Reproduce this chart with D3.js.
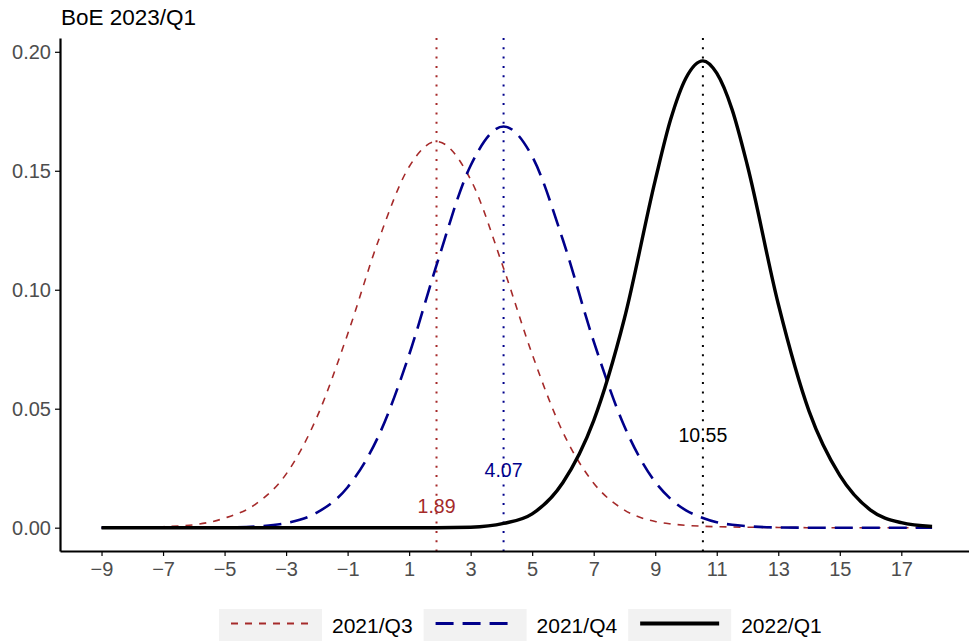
<!DOCTYPE html>
<html>
<head>
<meta charset="utf-8">
<script src="https://cdn.jsdelivr.net/npm/d3@7"></script>
<style>
  body { margin: 0; background: #fff; }
  svg { display: block; font-family: "Liberation Sans", Arial, Helvetica, sans-serif; }
</style>
</head>
<body>
<div id="app"></div>
<script>
// grid of x values (inflation, %)
const xGrid = [-9, -8, -7, -6, -5, -4, -3, -2, -1, 0, 1, 1.89, 3, 4.07, 5, 6, 7, 8, 9, 9.5,
               10, 10.55, 11, 11.5, 12, 13, 14, 15, 16, 17, 18];

// densities, one value per xGrid point
const q3 = [0.0000, 0.0001, 0.0004, 0.0012, 0.0040, 0.0098, 0.0225, 0.0464, 0.0813, 0.1206, 0.1517, 0.1623, 0.1463, 0.1090, 0.0729, 0.0401, 0.0187, 0.0074, 0.0026, 0.0016,
            0.0010, 0.0006, 0.0004, 0.0003, 0.0002, 0.0001, 0.0000, 0.0000, 0.0000, 0.0000, 0.0000];
const q4 = [0.0000, 0.0000, 0.0000, 0.0000, 0.0001, 0.0005, 0.0019, 0.0063, 0.0170, 0.0384, 0.0727, 0.1103, 0.1522, 0.1686, 0.1560, 0.1209, 0.0783, 0.0425, 0.0192, 0.0121,
            0.0073, 0.0041, 0.0023, 0.0012, 0.0006, 0.0001, 0.0000, 0.0000, 0.0000, 0.0000, 0.0000];
const q1 = [0.0000, 0.0000, 0.0000, 0.0000, 0.0000, 0.0000, 0.0000, 0.0000, 0.0000, 0.0000, 0.0000, 0.0000, 0.0002, 0.0018, 0.0058, 0.0190, 0.0450, 0.0880, 0.1460, 0.1715,
            0.1890, 0.1962, 0.1910, 0.1757, 0.1520, 0.0940, 0.0490, 0.0220, 0.0074, 0.0021, 0.0005];

const seriesNames = ["2021/Q3", "2021/Q4", "2022/Q1"];
const seriesValues = [q3, q4, q1];
const modes = [1.89, 4.07, 10.55];
const modeLabelY = [0.009, 0.024, 0.039];

const xTicks = [-9, -7, -5, -3, -1, 1, 3, 5, 7, 9, 11, 13, 15, 17];
const yTicks = [0, 0.05, 0.10, 0.15, 0.20];

const colors = ["#a52a2a", "#00008b", "#000000"];
const widths = [1.6, 2.6, 3.4];
const dashes = ["7,7", "18,9", null];

// sizing
const width = 969;
const height = 641;
const panel = {left: 60, right: 973.6, top: 38, bottom: 551};

const svg = d3.select("#app")
  .append("svg")
    .attr("width", width)
    .attr("height", height);

const x = d3.scaleLinear()
    .domain([-10.35, 19.35])
    .range([panel.left, panel.right]);

const y = d3.scaleLinear()
    .domain([-0.0098, 0.2058])
    .range([panel.bottom, panel.top]);

// title
svg.append("text")
    .attr("x", 61)
    .attr("y", 25)
    .style("font-size", "22.5px")
    .text("BoE 2023/Q1");

// vertical mode lines
svg.append("g")
  .selectAll("line")
  .data(modes)
  .enter().append("line")
    .attr("x1", d => x(d))
    .attr("x2", d => x(d))
    .attr("y1", panel.top)
    .attr("y2", panel.bottom)
    .attr("stroke", (d, i) => colors[i])
    .attr("stroke-width", 2)
    .attr("stroke-dasharray", "2,7.3");

// density curves
const line = d3.line()
    .x((d, i) => x(xGrid[i]))
    .y(d => y(d))
    .curve(d3.curveMonotoneX);

svg.append("g")
  .selectAll("path")
  .data(seriesValues)
  .enter().append("path")
    .attr("d", d => line(d))
    .attr("fill", "none")
    .attr("stroke", (d, i) => colors[i])
    .attr("stroke-width", (d, i) => widths[i])
    .attr("stroke-dasharray", (d, i) => dashes[i]);

// mode labels
svg.append("g")
  .selectAll("text")
  .data(modes)
  .enter().append("text")
    .attr("x", d => x(d))
    .attr("y", (d, i) => y(modeLabelY[i]))
    .attr("dy", "0.35em")
    .attr("text-anchor", "middle")
    .style("font-size", "19.5px")
    .style("fill", (d, i) => colors[i])
    .text(d => d.toFixed(2));

// axes
const yAxis = svg.append("g")
    .attr("transform", `translate(${panel.left},0)`)
    .call(d3.axisLeft(y).tickValues(yTicks).tickFormat(d3.format(".2f")).tickSize(5).tickSizeOuter(0).tickPadding(4));

const xAxis = svg.append("g")
    .attr("transform", `translate(0,${panel.bottom})`)
    .call(d3.axisBottom(x).tickValues(xTicks).tickSize(5).tickSizeOuter(0).tickPadding(6));

[yAxis, xAxis].forEach(a => {
  a.select(".domain").attr("stroke", "#000").attr("stroke-width", 2.2);
  a.selectAll(".tick line").attr("stroke", "#000").attr("stroke-width", 1.2);
  a.selectAll(".tick text")
      .style("font-size", "20px")
      .style("font-family", "'Liberation Sans', Arial, Helvetica, sans-serif")
      .attr("fill", "#4d4d4d");
});

// legend
const legend = svg.append("g");
let lx = 219;
seriesNames.forEach((name, i) => {
  legend.append("rect")
      .attr("x", lx)
      .attr("y", 609)
      .attr("width", 103)
      .attr("height", 34)
      .attr("fill", "#f2f2f2");
  legend.append("line")
      .attr("x1", lx + 12)
      .attr("x2", lx + 91)
      .attr("y1", 623.5)
      .attr("y2", 623.5)
      .attr("stroke", colors[i])
      .attr("stroke-width", widths[i] + (i === 2 ? 0.6 : 0.4))
      .attr("stroke-dasharray", dashes[i]);
  const t = legend.append("text")
      .attr("x", lx + 113)
      .attr("y", 633)
      .style("font-size", "21px")
      .text(name);
  lx += 113 + t.node().getComputedTextLength() + 11;
});
</script>
</body>
</html>
